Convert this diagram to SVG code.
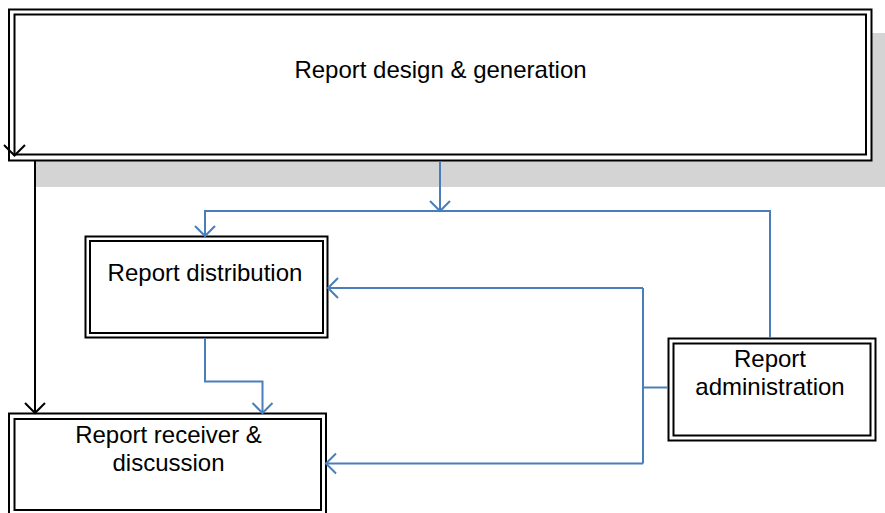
<svg xmlns="http://www.w3.org/2000/svg" width="885" height="513" viewBox="0 0 885 513">
  <style>
    .outer, .inner { fill: none; stroke: #000; stroke-width: 2; }
    .fill { fill: #fff; }
    .label { font-family: "Liberation Sans", Arial, sans-serif; font-size: 24px; fill: #000; text-anchor: middle; }
    .blue { fill: none; stroke: #4A7EBB; stroke-width: 2; }
    .black { fill: none; stroke: #000; stroke-width: 2; }
  </style>
  <defs>
    <marker id="arrowBlue" markerUnits="userSpaceOnUse" markerWidth="24" markerHeight="24" viewBox="-12 -12 24 24" refX="0" refY="0" orient="auto" overflow="visible">
      <path d="M-10,-10 L0,0 L-10,10" fill="none" stroke="#4A7EBB" stroke-width="2"/>
    </marker>
    <marker id="arrowBlack" markerUnits="userSpaceOnUse" markerWidth="24" markerHeight="24" viewBox="-12 -12 24 24" refX="0" refY="0" orient="auto" overflow="visible">
      <path d="M-10,-10 L0,0 L-10,10" fill="none" stroke="#000" stroke-width="2"/>
    </marker>
  </defs>

  <rect width="885" height="513" fill="#fff"/>

  <!-- Report design & generation, with drop shadow -->
  <g id="node-design">
    <rect x="35" y="33" width="870" height="154" fill="#D4D4D4"/>
    <rect class="fill outer" x="9" y="9.5" width="862.5" height="151"/>
    <rect class="inner" x="14.5" y="14.5" width="851.5" height="140"/>
    <text class="label" x="440.5" y="78">Report design &amp; generation</text>
  </g>

  <!-- Report distribution -->
  <g id="node-distribution">
    <rect class="fill outer" x="85.5" y="236.5" width="242" height="101"/>
    <rect class="inner" x="90" y="241" width="233" height="92"/>
    <text class="label" x="205" y="281">Report distribution</text>
  </g>

  <!-- Report administration -->
  <g id="node-administration">
    <rect class="fill outer" x="668.5" y="338.5" width="207" height="102"/>
    <rect class="inner" x="673.5" y="343.5" width="197" height="92"/>
    <text class="label" x="770" y="367">Report</text>
    <text class="label" x="770" y="395">administration</text>
  </g>

  <!-- Report receiver & discussion -->
  <g id="node-receiver">
    <rect class="fill outer" x="9" y="413.5" width="317" height="110"/>
    <rect class="inner" x="14.5" y="419" width="306.5" height="91"/>
    <text class="label" x="168.5" y="443">Report receiver &amp;</text>
    <text class="label" x="168.5" y="471">discussion</text>
  </g>

  <!-- Connectors -->
  <g id="connectors">
    <path class="black" d="M35,161 L35,413" marker-end="url(#arrowBlack)"/>
    <path class="black" d="M4,145 L14.5,155.5 L25,145"/>
    <path class="blue" d="M440,161 L440,211" marker-end="url(#arrowBlue)"/>
    <path class="blue" d="M770,338 L770,211 L205,211 L205,236" marker-end="url(#arrowBlue)"/>
    <path class="blue" d="M205,338 L205,381.5 L262.5,381.5 L262.5,413" marker-end="url(#arrowBlue)"/>
    <path class="blue" d="M668,387.5 L643,387.5"/>
    <path class="blue" d="M643,288 L643,463.5"/>
    <path class="blue" d="M643,288 L328,288" marker-end="url(#arrowBlue)"/>
    <path class="blue" d="M643,463.5 L326,463.5" marker-end="url(#arrowBlue)"/>
  </g>
</svg>
